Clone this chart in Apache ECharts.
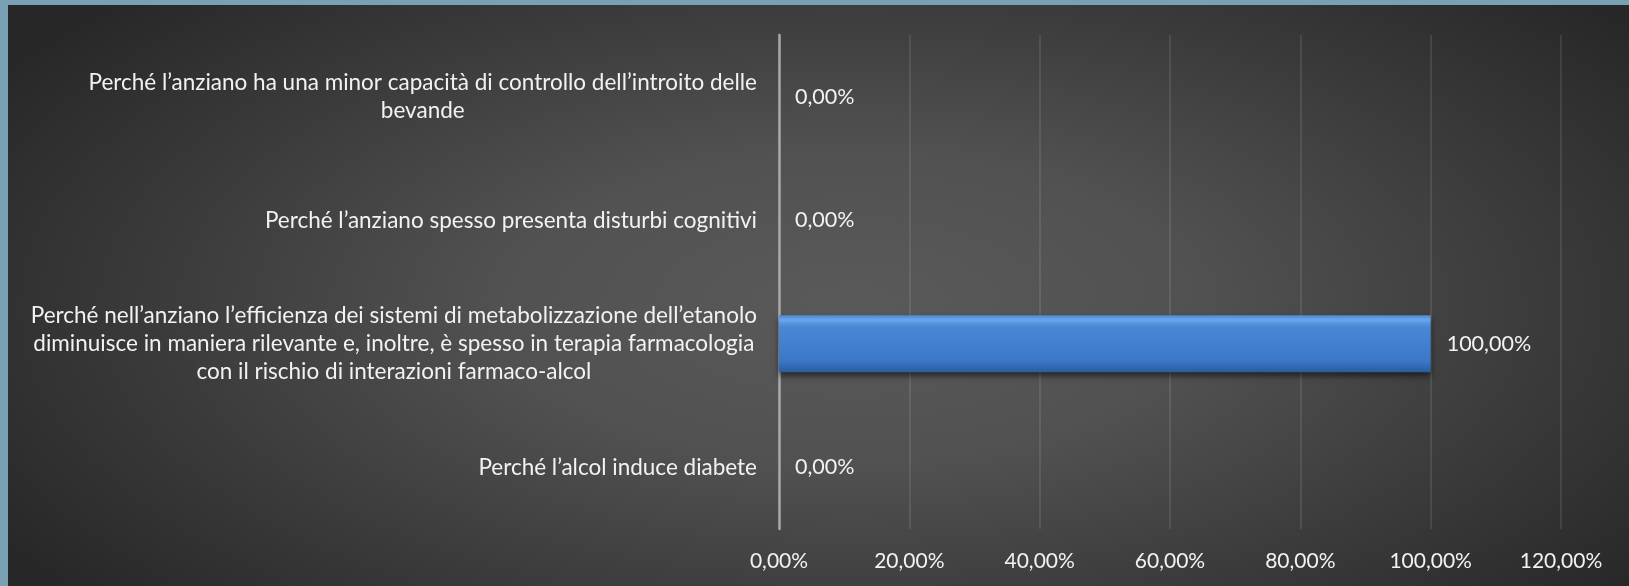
<!DOCTYPE html>
<html>
<head>
<meta charset="utf-8">
<script src="https://cdn.jsdelivr.net/npm/echarts@6/dist/echarts.min.js"></script>
<style>
  html, body { margin: 0; padding: 0; background: #7aa0b3; }
  #main {
    position: absolute; left: 8px; top: 5px; width: 1621px; height: 581px;
    background: radial-gradient(ellipse 62% 78% at 52% 52%, #5a5a5a 0%, #515151 35%, #3a3a3a 70%, #272727 100%);
  }
</style>
</head>
<body>
<div id="main"></div>
<script>
// categories, bottom to top (as the value axis reads them)
const categories = [
  'Perché l’alcol induce diabete',
  'Perché nell’anziano l’efficienza dei sistemi di metabolizzazione dell’etanolo\ndiminuisce in maniera rilevante e, inoltre, è spesso in terapia farmacologia\ncon il rischio di interazioni farmaco-alcol',
  'Perché l’anziano spesso presenta disturbi cognitivi',
  'Perché l’anziano ha una minor capacità di controllo dell’introito delle\nbevande'
];
// share of answers, in percent
const values = [0, 100, 0, 0];

const fontFamily = 'Lato, "Open Sans", sans-serif';
const pct = (v) => v.toFixed(2).replace('.', ',') + '%';

const myChart = echarts.init(document.getElementById('main'));

const option = {
  backgroundColor: 'transparent',
  textStyle: { fontFamily: fontFamily },
  grid: { left: 771, right: 68, top: 30, bottom: 57 },
  xAxis: {
    type: 'value',
    min: 0,
    max: 120,
    interval: 20,
    axisLine: { show: false },
    axisTick: { show: false },
    splitLine: { lineStyle: { color: 'rgba(255,255,255,0.13)', width: 1.5 } },
    axisLabel: {
      margin: 22,
      color: '#f2f2f2',
      fontSize: 21,
      fontFamily: fontFamily,
      formatter: (v) => pct(v)
    }
  },
  yAxis: {
    type: 'category',
    data: categories,
    axisLine: { lineStyle: { color: '#a8a8a8', width: 2.5 } },
    axisTick: { show: false },
    axisLabel: {
      margin: 22,
      color: '#f2f2f2',
      fontSize: 22.5,
      fontFamily: fontFamily,
      lineHeight: 28,
      formatter: (v) => v.split('\n').map((l) => '{c|' + l + '}').join('\n'),
      rich: {
        c: { align: 'center', color: '#f2f2f2', fontSize: 22.5, fontFamily: fontFamily, lineHeight: 28 }
      }
    }
  },
  series: [{
    type: 'bar',
    data: values,
    barWidth: 57,
    itemStyle: {
      color: new echarts.graphic.LinearGradient(0, 0, 0, 1, [
        { offset: 0, color: '#4a88d4' },
        { offset: 0.08, color: '#6aa6ea' },
        { offset: 0.2, color: '#4a88d6' },
        { offset: 0.8, color: '#3b78c8' },
        { offset: 1, color: '#2a5c9e' }
      ]),
      borderWidth: 0,
      shadowColor: 'rgba(0,0,0,0.55)',
      shadowBlur: 6,
      shadowOffsetY: 4
    },
    label: {
      show: true,
      position: 'right',
      distance: 16,
      color: '#f2f2f2',
      fontSize: 21.5,
      fontFamily: fontFamily,
      formatter: (p) => pct(p.value)
    }
  }]
};

myChart.setOption(option);
</script>
</body>
</html>
